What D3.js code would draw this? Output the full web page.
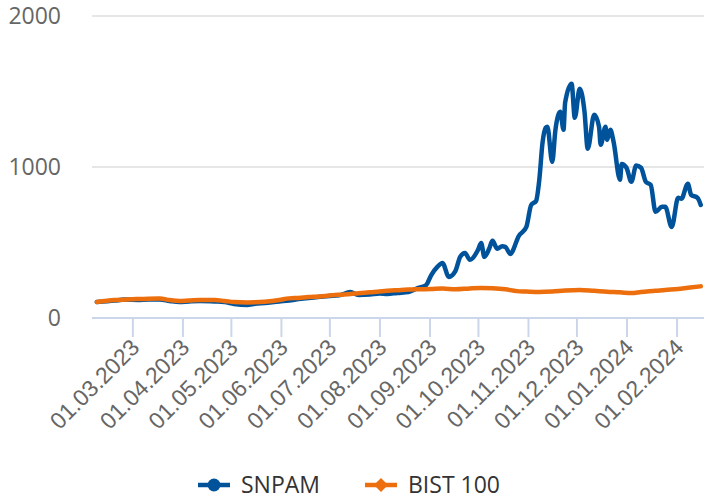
<!DOCTYPE html>
<html lang="en">
<head>
    <title>SNPAM vs BIST 100</title>
    <script src="https://d3js.org/d3.v7.min.js"></script>
    <style>
        body { margin: 0; background: #fff; }
        svg { font-family: "Open Sans", sans-serif; }
        .grid line { stroke: #e6e6e6; stroke-width: 2; }
        .xaxis path, .xaxis line { stroke: #ccd6eb; stroke-width: 2; }
        .xaxis text, .ylab { fill: #666; font-size: 23px; }
        .legend text { fill: #333; font-size: 23px; }
    </style>
</head>
<body>
<div id="chart"></div>
<script>
    // data
    var seriesNames = ["SNPAM", "BIST 100"];
    var yTicks = [0, 1000, 2000];

    var snpamDates = ["2023-02-07","2023-02-18","2023-02-24","2023-03-05","2023-03-11","2023-03-18","2023-03-24",
        "2023-03-30","2023-04-05","2023-04-12","2023-04-21","2023-04-27","2023-05-03","2023-05-11","2023-05-16",
        "2023-05-22","2023-05-31","2023-06-06","2023-06-12","2023-06-18","2023-06-25","2023-07-01","2023-07-07",
        "2023-07-14","2023-07-19","2023-07-26","2023-08-01","2023-08-06","2023-08-12","2023-08-19","2023-08-25",
        "2023-08-30","2023-09-02","2023-09-06","2023-09-09","2023-09-13","2023-09-17","2023-09-20","2023-09-23",
        "2023-09-26","2023-10-01","2023-10-03","2023-10-05","2023-10-08","2023-10-10","2023-10-13","2023-10-16",
        "2023-10-18","2023-10-21","2023-10-25","2023-10-26","2023-10-31","2023-11-03","2023-11-06","2023-11-08",
        "2023-11-10","2023-11-12","2023-11-13","2023-11-16","2023-11-18","2023-11-21","2023-11-23","2023-11-24",
        "2023-11-28","2023-11-30","2023-12-03","2023-12-06","2023-12-08","2023-12-12","2023-12-15","2023-12-16",
        "2023-12-19","2023-12-20","2023-12-22","2023-12-24","2023-12-28","2023-12-29","2024-01-01","2024-01-04",
        "2024-01-07","2024-01-10","2024-01-13","2024-01-16","2024-01-19","2024-01-23","2024-01-25","2024-01-29",
        "2024-02-02","2024-02-04","2024-02-08","2024-02-10","2024-02-14","2024-02-16"];
    var snpamValues = [106,115,122,120,122,122,113,
        106,110,113,110,106,93,86,95,
        100,110,115,125,133,140,146,150,
        172,153,155,162,159,166,172,199,
        219,283,340,365,272,310,405,431,
        385,450,497,405,460,511,458,475,
        471,424,511,537,603,749,775,915,
        1160,1260,1267,1034,1247,1366,1247,1426,
        1552,1326,1518,1366,1121,1346,1267,1147,
        1267,1180,1247,1167,915,1020,995,902,
        1010,995,902,882,703,736,736,603,
        796,790,889,816,796,749];

    var bistDates = ["2023-02-07","2023-02-18","2023-03-01","2023-03-11","2023-03-18","2023-03-24","2023-03-30",
        "2023-04-05","2023-04-12","2023-04-21","2023-04-27","2023-05-03","2023-05-11","2023-05-16","2023-05-22",
        "2023-05-31","2023-06-06","2023-06-12","2023-06-18","2023-06-25","2023-07-01","2023-07-07","2023-07-14",
        "2023-07-19","2023-07-26","2023-08-01","2023-08-06","2023-08-12","2023-08-19","2023-08-25","2023-09-02",
        "2023-09-09","2023-09-17","2023-09-26","2023-10-03","2023-10-10","2023-10-18","2023-10-25","2023-10-31",
        "2023-11-08","2023-11-16","2023-11-24","2023-12-03","2023-12-12","2023-12-20","2023-12-28","2024-01-04",
        "2024-01-10","2024-01-19","2024-01-25","2024-02-02","2024-02-08","2024-02-16"];
    var bistValues = [106,119,124,128,129,119,113,
        116,120,119,113,106,103,104,108,
        119,130,133,139,143,149,154,159,
        164,170,176,180,184,188,190,192,
        195,190,196,199,197,190,178,175,
        172,175,182,186,180,174,170,165,
        172,180,186,192,200,210];

    var colors = ["#00539b", "#ec6e0c"];

    var width = 704, height = 499;
    var margin = { left: 92, right: 704, top: 16, bottom: 318 };
    var parse = d3.timeParse("%Y-%m-%d");

    var svg = d3.select("#chart").append("svg")
        .attr("width", width)
        .attr("height", height);

    var x = d3.scaleTime()
        .domain([parse("2023-02-04"), parse("2024-02-18")])
        .range([margin.left, margin.right]);
    var y = d3.scaleLinear()
        .domain([0, 2000])
        .range([margin.bottom, margin.top]);

    // gridlines
    svg.append("g").attr("class", "grid")
        .selectAll("line").data(yTicks.slice(1)).enter()
        .append("line")
        .attr("x1", margin.left).attr("x2", margin.right)
        .attr("y1", function (d) { return y(d); })
        .attr("y2", function (d) { return y(d); });

    svg.selectAll(".ylab").data(yTicks).enter()
        .append("text").attr("class", "ylab")
        .attr("x", 61)
        .attr("y", function (d) { return y(d) + 8; })
        .attr("text-anchor", "end")
        .text(function (d) { return d; });

    var xaxis = d3.axisBottom(x)
        .ticks(d3.timeMonth.every(1))
        .tickFormat(d3.timeFormat("%d.%m.%Y"))
        .tickSize(19)
        .tickSizeOuter(0);
    var gx = svg.append("g").attr("class", "xaxis")
        .attr("transform", "translate(0," + margin.bottom + ")")
        .call(xaxis);
    gx.select(".domain").attr("d", "M" + margin.left + ",0H" + margin.right);
    gx.selectAll(".tick text")
        .attr("y", null).attr("dy", null)
        .attr("text-anchor", "end")
        .attr("transform", "translate(8,31) rotate(-45)");
    gx.selectAll(".tick").filter(function (d) { return d < parse("2023-03-01"); }).remove();

    var line = d3.line()
        .x(function (d) { return x(d.date); })
        .y(function (d) { return y(d.value); })
        .curve(d3.curveMonotoneX);

    var series = [
        snpamDates.map(function (d, i) { return { date: parse(d), value: snpamValues[i] }; }),
        bistDates.map(function (d, i) { return { date: parse(d), value: bistValues[i] }; })
    ];

    series.forEach(function (s, i) {
        svg.append("path")
            .datum(s)
            .attr("fill", "none")
            .attr("stroke", colors[i])
            .attr("stroke-width", 4.5)
            .attr("stroke-linejoin", "round")
            .attr("stroke-linecap", "round")
            .attr("d", line);
    });

    // legend
    var legend = svg.append("g").attr("class", "legend");
    var legendX = [198, 365];
    seriesNames.forEach(function (name, i) {
        var g = legend.append("g").attr("transform", "translate(" + legendX[i] + ",485)");
        g.append("line").attr("x1", 0).attr("x2", 32)
            .attr("stroke", colors[i]).attr("stroke-width", 4.5);
        if (i === 0) {
            g.append("circle").attr("cx", 16).attr("r", 6.5).attr("fill", colors[i]);
        } else {
            g.append("path").attr("d", "M16,-7L23,0L16,7L9,0Z").attr("fill", colors[i]);
        }
        g.append("text").attr("x", 43).attr("y", 8).text(name);
    });
</script>
</body>
</html>
